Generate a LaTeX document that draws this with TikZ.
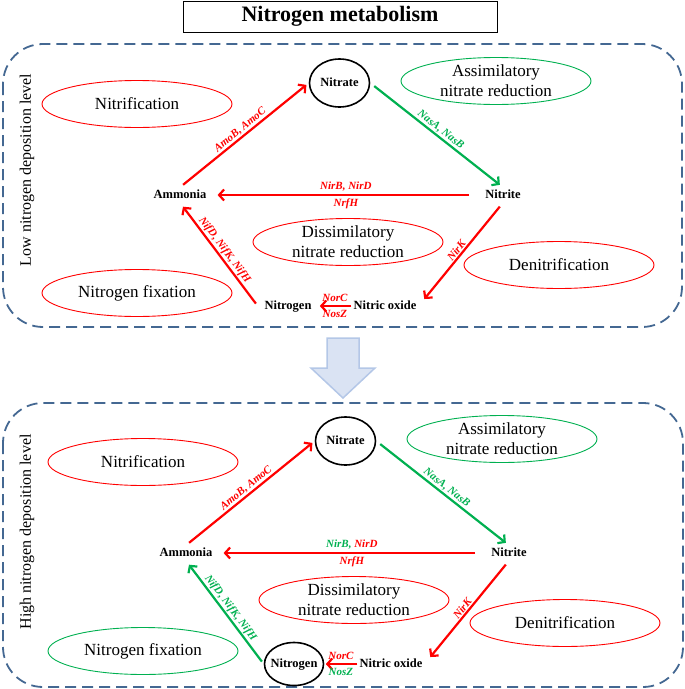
\documentclass[tikz,border=0pt]{standalone}
\usepackage{fontspec}
\setmainfont{Liberation Serif}
\usetikzlibrary{arrows.meta,shapes.geometric}
\definecolor{myred}{RGB}{255,0,0}
\definecolor{mygreen}{RGB}{0,176,80}
\definecolor{dashblue}{RGB}{68,104,146}
\definecolor{arrfill}{RGB}{218,227,243}
\definecolor{arrline}{RGB}{180,199,231}
\tikzset{
  procell/.style={ellipse, line width=0.9pt, minimum width=190pt, minimum height=47pt,
    inner xsep=0pt, inner ysep=-3pt, align=center, font=\fontsize{17}{20}\selectfont},
  compd/.style={font=\fontsize{12.5}{14}\selectfont\bfseries, inner sep=2pt, text height=8.5pt, text depth=2.5pt},
  circd/.style={draw, ellipse, line width=1.6pt, minimum width=60pt, minimum height=48pt, inner sep=0pt},
  ncirc/.style={ellipse, line width=1.6pt, minimum width=59pt, minimum height=43pt, inner ysep=0pt, inner xsep=-4pt},
  flowarr/.style={line width=2.2pt, -{Straight Barb[length=5pt,width=11pt]}},
  genelab/.style={font=\fontsize{11}{13}\selectfont\bfseries\itshape, inner sep=1pt},
  boxframe/.style={draw=dashblue, line width=1.8pt, dash pattern=on 11pt off 6pt, rounded corners=40pt},
  sidelab/.style={rotate=90, font=\fontsize{16}{19}\selectfont},
}
\newcommand\nitrocycle[5]{%
  \node[procell, draw=myred] (nitrif) at (137,104) {Nitrification};
  \node[procell, draw=mygreen] (assim) at (496,81) {Assimilatory\\nitrate reduction};
  \node[procell, draw=myred] (dissim) at (348,242) {Dissimilatory\\nitrate reduction};
  \node[procell, draw=myred] (denit) at (559,265) {Denitrification};
  \node[procell, draw=#1] (fix) at (137,293) {Nitrogen fixation};
  \node[compd, circd] (nitrate) at (339.5,83) {Nitrate};
  \node[compd] (nitrite) at (503,195) {Nitrite};
  \node[compd] (ammonia) at (180,195) {Ammonia};
  \node[compd, ncirc, #5] (nitrogen) at (288,306) {Nitrogen};
  \node[compd] (nitric) at (385,306) {Nitric oxide};
  \draw[flowarr, myred, shorten <=4pt, shorten >=3pt] (ammonia.north) --
    node[genelab, sloped, above] {AmoB, AmoC} (nitrate.west);
  \draw[flowarr, mygreen, shorten <=5pt, shorten >=4pt] (nitrate.east) --
    node[genelab, sloped, above] {NasA, NasB} (nitrite.north);
  \draw[flowarr, myred, shorten <=14pt, shorten >=9pt] (nitrite.west) --
    node[genelab, above=2pt] {\textcolor{#2}{NirB,} NirD}
    node[genelab, below=2pt] {NrfH} (ammonia.east);
  \draw[flowarr, myred, shorten <=5pt, shorten >=9pt] (nitrite.south) --
    node[genelab, sloped, above] {NirK} (nitric.east);
  \draw[flowarr, myred, shorten >=1.5pt] (nitric.west) --
    node[genelab, above=2pt] {NorC}
    node[genelab, below=2pt, text=#4] {NosZ} (nitrogen.east);
  \draw[flowarr, #3, shorten <=3pt, shorten >=5pt] (nitrogen.west) --
    node[genelab, sloped, above] {NifD, NifK, NifH} (ammonia.south);
}
\begin{document}
\begin{tikzpicture}[x=1pt, y=-1pt]
  \useasboundingbox (0,0) rectangle (685,689);
  \node[draw, line width=1pt, minimum width=314pt, minimum height=31pt,
        font=\fontsize{22}{26}\selectfont\bfseries] (title) at (340,16.5) {Nitrogen metabolism};
  \draw[boxframe] (3,44) rectangle (682,327);
  \draw[boxframe] (3,403) rectangle (683,687);
  \node[sidelab] (lowlab) at (27,170) {Low nitrogen deposition level};
  \node[sidelab] (highlab) at (27,532) {High nitrogen deposition level};
  \draw[fill=arrfill, draw=arrline, line width=1.5pt]
    (327,338) -- (359,338) -- (359,368) -- (375,368) -- (343,398) -- (311,368) -- (327,368) -- cycle;
  \begin{scope}[name prefix=u-]
    \nitrocycle{myred}{myred}{myred}{myred}{}
  \end{scope}
  \begin{scope}[shift={(6,358)}, name prefix=l-]
    \nitrocycle{mygreen}{mygreen}{mygreen}{mygreen}{draw}
  \end{scope}
\end{tikzpicture}
\end{document}
